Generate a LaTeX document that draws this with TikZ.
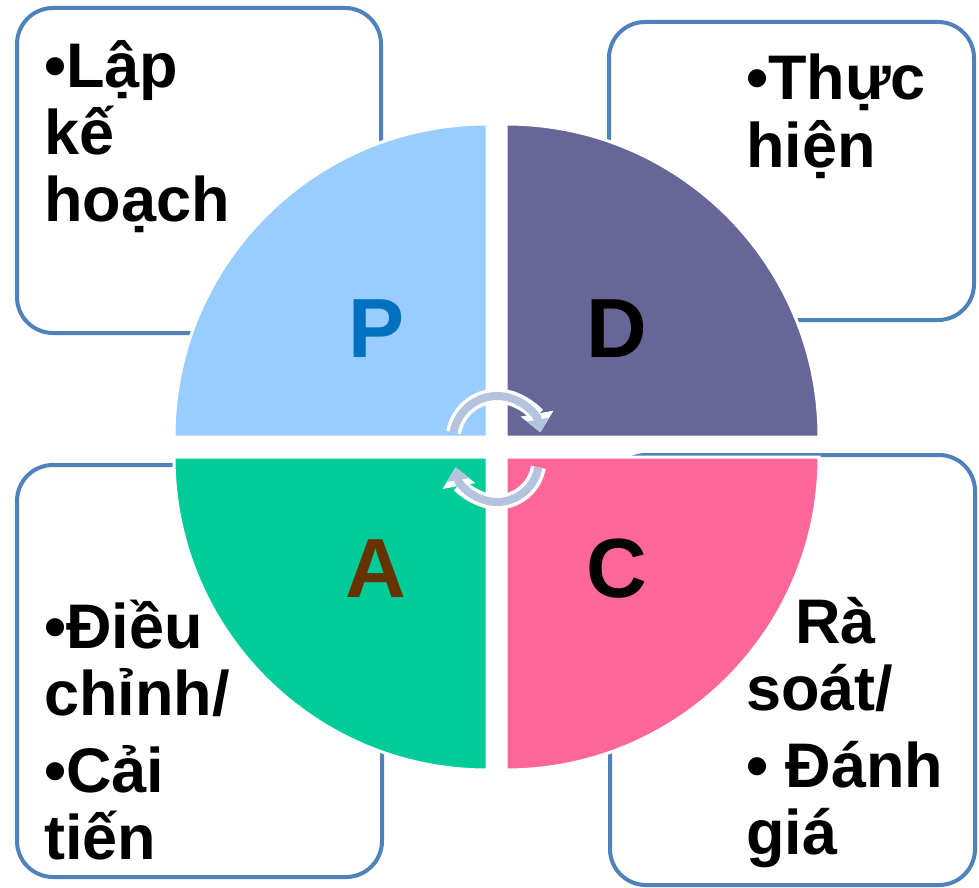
\documentclass[tikz,border=0pt]{standalone}
\usepackage{fontspec}
\setmainfont{Liberation Sans}
\usetikzlibrary{arrows.meta}
\definecolor{boxblue}{HTML}{4F81BD}
\definecolor{pcol}{HTML}{99CCFF}
\definecolor{dcol}{HTML}{666699}
\definecolor{acol}{HTML}{00CC99}
\definecolor{ccol}{HTML}{FF6699}
\definecolor{pletter}{HTML}{0070C0}
\definecolor{aletter}{HTML}{663300}
\definecolor{arrowcol}{HTML}{B4C3DE}
\begin{document}
\begin{tikzpicture}[x=1pt,y=-1pt,
  infobox/.style={draw=boxblue, line width=4pt, rounded corners=36pt, fill=white},
  quad/.style={draw=white, line width=3pt},
  boxtext/.style={anchor=base west, inner sep=0pt, font=\fontsize{63}{67}\selectfont\bfseries},
  letter/.style={anchor=base, inner sep=0pt, font=\fontsize{84}{84}\selectfont\bfseries},
  arrowback/.style={white, line width=15pt, -{Triangle[length=19pt,width=32pt]}},
  arrowfront/.style={arrowcol, line width=8pt, -{Triangle[length=13pt,width=22pt]}},
  ]
\useasboundingbox (0,0) rectangle (979,888);
\fill[white] (0,0) rectangle (979,888);
% boxes
\draw[infobox] (17,8) rectangle (381,333);
\draw[infobox] (609,22) rectangle (974,320);
\draw[infobox] (17,465) rectangle (382,877);
\draw[infobox] (610,455) rectangle (975,885);
% quadrants
\coordinate (cP) at (487,437);
\coordinate (cD) at (506,437);
\coordinate (cA) at (487,457);
\coordinate (cC) at (506,457);
\filldraw[quad, fill=pcol] (cP) -- ++(-313pt,0pt) arc[start angle=180, end angle=90, radius=313pt] -- cycle;
\filldraw[quad, fill=dcol] (cD) -- ++(313pt,0pt) arc[start angle=0, end angle=90, radius=313pt] -- cycle;
\filldraw[quad, fill=acol] (cA) -- ++(-313pt,0pt) arc[start angle=180, end angle=270, radius=313pt] -- cycle;
\filldraw[quad, fill=ccol] (cC) -- ++(313pt,0pt) arc[start angle=0, end angle=-90, radius=313pt] -- cycle;
% letters
\node[letter, text=pletter] (P) at (377,357) {P};
\node[letter, text=black] (D) at (617,357) {D};
\node[letter, text=aletter] (A) at (376,597) {A};
\node[letter, text=black] (C) at (617,597) {C};
% centre arrows
\coordinate (ctop) at (497,440);
\coordinate (cbot) at (497,460);
\draw[arrowback] ([shift={(170:44pt)}]ctop) arc[start angle=170, end angle=10, radius=44pt];
\draw[arrowfront] ([shift={(170:44pt)}]ctop) arc[start angle=170, end angle=10, radius=44pt];
\draw[arrowback] ([shift={(-10:42pt)}]cbot) arc[start angle=-10, end angle=-170, radius=42pt];
\draw[arrowfront] ([shift={(-10:42pt)}]cbot) arc[start angle=-10, end angle=-170, radius=42pt];
% texts
\node[boxtext] (tP) at (44,88) {\vtop{\hbox{•Lập}\hbox{kế}\hbox{hoạch}}};
\node[boxtext] (tD) at (746,100) {\vtop{\hbox{•Thực}\hbox{hiện}}};
\node[boxtext] (tA) at (44,648) {\vtop{\hbox{•Điều}\hbox{chỉnh/}\vskip10pt\hbox{•Cải}\hbox{tiến}}};
\node[boxtext] (tC) at (746,643) {\vtop{\hbox{\hspace{49pt}Rà}\hbox{soát/}\vskip10pt\hbox{• Đánh}\hbox{giá}}};
\end{tikzpicture}
\end{document}
